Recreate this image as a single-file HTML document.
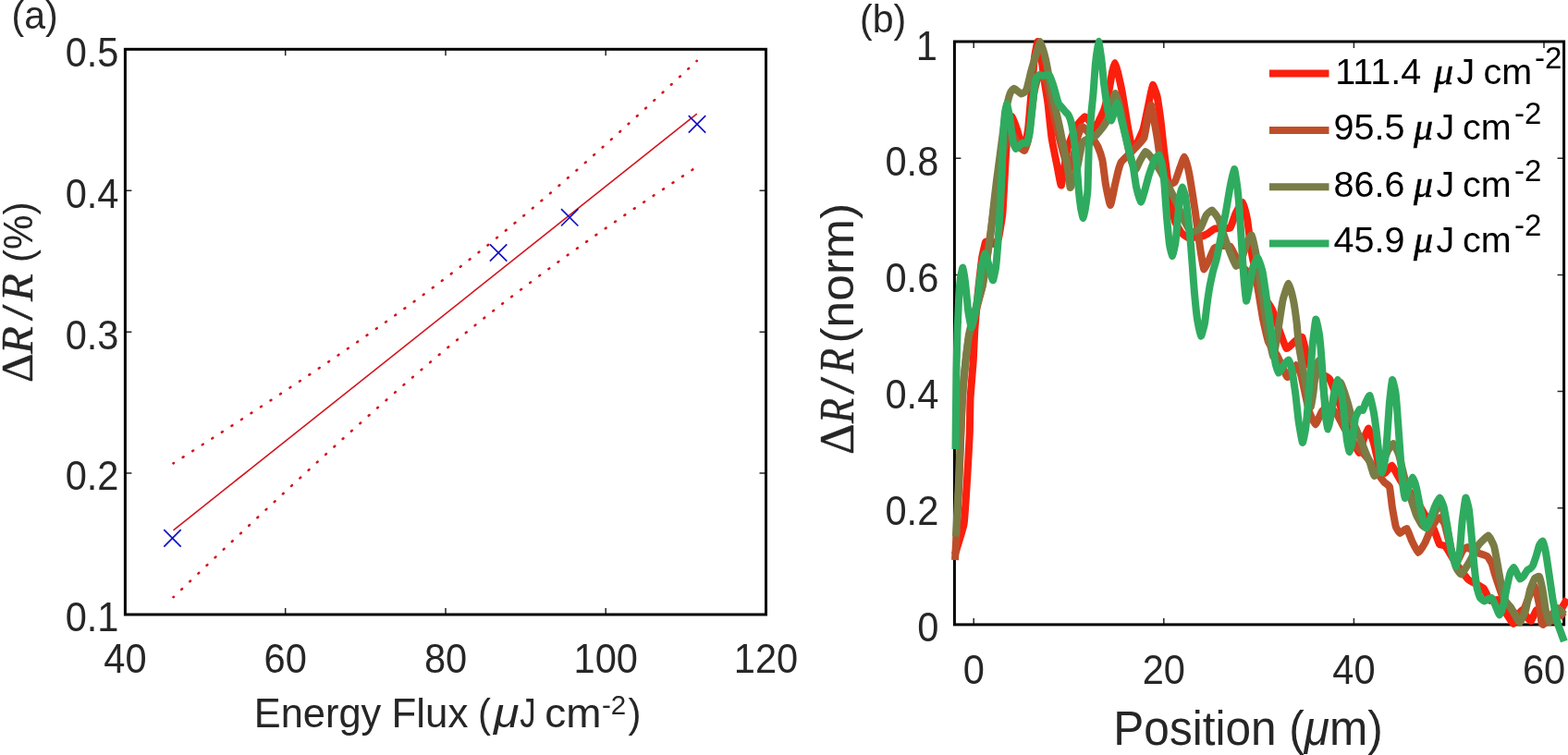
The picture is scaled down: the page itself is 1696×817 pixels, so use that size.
<!DOCTYPE html>
<html><head><meta charset="utf-8"><title>Figure</title>
<style>
html,body{margin:0;padding:0;background:#fff;}
body{width:1696px;height:817px;overflow:hidden;}
svg{display:block}
text{font-family:"Liberation Sans",sans-serif;fill:#262626;}
text.sf,tspan.sf{font-family:"Liberation Serif",serif;stroke:#262626;stroke-width:0.4px;}
text.sfi,tspan.sfi{font-family:"Liberation Serif",serif;font-style:italic;stroke:#262626;stroke-width:0.4px;}
text.k{fill:#000;}
.it{font-style:italic;}
</style></head><body>
<svg width="1696" height="817" viewBox="0 0 1696 817">
<rect width="1696" height="817" fill="#fff"/>

<g id="panel-a">
<text transform="translate(12.5 31.0) scale(0.965 1)" font-size="42.5" text-anchor="start">(a)</text>
<path d="M308.7 665.0v-7M308.7 53.3v7" stroke="#262626" stroke-width="1.5" fill="none"/>
<path d="M482.0 665.0v-7M482.0 53.3v7" stroke="#262626" stroke-width="1.5" fill="none"/>
<path d="M655.2 665.0v-7M655.2 53.3v7" stroke="#262626" stroke-width="1.5" fill="none"/>
<path d="M135.4 512.1h7M828.5 512.1h-7" stroke="#262626" stroke-width="1.5" fill="none"/>
<path d="M135.4 359.2h7M828.5 359.2h-7" stroke="#262626" stroke-width="1.5" fill="none"/>
<path d="M135.4 206.2h7M828.5 206.2h-7" stroke="#262626" stroke-width="1.5" fill="none"/>
<text transform="translate(135.4 728.3) scale(0.956 1)" font-size="43.5" text-anchor="middle">40</text>
<text transform="translate(308.7 728.3) scale(0.956 1)" font-size="43.5" text-anchor="middle">60</text>
<text transform="translate(482.0 728.3) scale(0.956 1)" font-size="43.5" text-anchor="middle">80</text>
<text transform="translate(655.2 728.3) scale(0.956 1)" font-size="43.5" text-anchor="middle">100</text>
<text transform="translate(828.5 728.3) scale(0.956 1)" font-size="43.5" text-anchor="middle">120</text>
<text transform="translate(128.5 683.3) scale(0.956 1)" font-size="43.5" text-anchor="end">0.1</text>
<text transform="translate(128.5 530.4) scale(0.956 1)" font-size="43.5" text-anchor="end">0.2</text>
<text transform="translate(128.5 377.5) scale(0.956 1)" font-size="43.5" text-anchor="end">0.3</text>
<text transform="translate(128.5 224.5) scale(0.956 1)" font-size="43.5" text-anchor="end">0.4</text>
<text transform="translate(128.5 71.6) scale(0.956 1)" font-size="43.5" text-anchor="end">0.5</text>
<line x1="187.5" y1="573.8" x2="753.8" y2="123.2" stroke="#d4141c" stroke-width="1.6"/>
<path d="M187.5 501.3L201.7 492.3L215.8 483.2L230.0 474.1L244.1 465.0L258.3 455.8L272.4 446.6L286.6 437.3L300.8 428.0L314.9 418.6L329.1 409.2L343.2 399.7L357.4 390.1L371.5 380.4L385.7 370.6L399.9 360.7L414.0 350.8L428.2 340.6L442.3 330.4L456.5 320.0L470.6 309.4L484.8 298.7L499.0 287.8L513.1 276.7L527.3 265.5L541.4 254.0L555.6 242.4L569.8 230.6L583.9 218.7L598.1 206.6L612.2 194.3L626.4 181.9L640.5 169.4L654.7 156.7L668.9 144.0L683.0 131.1L697.2 118.2L711.3 105.2L725.5 92.1L739.6 79.0L753.8 65.8" stroke="#d4141c" stroke-width="2.6" stroke-dasharray="1 11.56" stroke-dashoffset="0.5" stroke-linecap="round" fill="none"/>
<path d="M187.5 646.2L201.7 632.7L215.8 619.3L230.0 605.8L244.1 592.4L258.3 579.1L272.4 565.8L286.6 552.5L300.8 539.3L314.9 526.1L329.1 513.1L343.2 500.0L357.4 487.1L371.5 474.2L385.7 461.5L399.9 448.8L414.0 436.3L428.2 423.9L442.3 411.6L456.5 399.5L470.6 387.5L484.8 375.7L499.0 364.1L513.1 352.6L527.3 341.3L541.4 330.2L555.6 319.3L569.8 308.6L583.9 298.0L598.1 287.6L612.2 277.3L626.4 267.2L640.5 257.2L654.7 247.3L668.9 237.5L683.0 227.8L697.2 218.2L711.3 208.7L725.5 199.3L739.6 189.9L753.8 180.5" stroke="#d4141c" stroke-width="2.6" stroke-dasharray="1 11.564" stroke-dashoffset="0.5" stroke-linecap="round" fill="none"/>
<path d="M177.3 573.2L195.7 591.6M177.3 591.6L195.7 573.2" stroke="#1212c4" stroke-width="1.7" fill="none"/>
<path d="M529.9 264.3L548.3 282.7M529.9 282.7L548.3 264.3" stroke="#1212c4" stroke-width="1.7" fill="none"/>
<path d="M607.0 226.1L625.4 244.5M607.0 244.5L625.4 226.1" stroke="#1212c4" stroke-width="1.7" fill="none"/>
<path d="M744.8 125.2L763.2 143.6M744.8 143.6L763.2 125.2" stroke="#1212c4" stroke-width="1.7" fill="none"/>
<rect x="135.4" y="53.3" width="693.1" height="611.7" fill="none" stroke="#000" stroke-width="3"/>
<text transform="translate(0 787)" font-size="43.5"><tspan x="274.80" y="0" font-size="43.5" textLength="137.41" lengthAdjust="spacingAndGlyphs">Energy</tspan> <tspan x="423.50" y="0" font-size="43.5" textLength="82.84" lengthAdjust="spacingAndGlyphs">Flux</tspan> <tspan x="517.00" y="0" font-size="43.5" textLength="13.92" lengthAdjust="spacingAndGlyphs">(</tspan><tspan x="534.00" y="0" font-size="43.5" class="it" textLength="27.42" lengthAdjust="spacingAndGlyphs">μ</tspan><tspan x="562.30" y="0" font-size="43.5" textLength="17.40" lengthAdjust="spacingAndGlyphs">J</tspan> <tspan x="589.30" y="0" font-size="43.5" textLength="61.19" lengthAdjust="spacingAndGlyphs">cm</tspan><tspan x="651.00" y="-14.5" font-size="29.5" textLength="26.23" lengthAdjust="spacingAndGlyphs">-2</tspan><tspan x="679.50" y="0" font-size="43.5" textLength="13.92" lengthAdjust="spacingAndGlyphs">)</tspan></text>
<text transform="translate(35.2 0) rotate(-90)" font-size="49"><tspan x="-413.96" y="0" font-size="49" class="sf" textLength="31.52" lengthAdjust="spacingAndGlyphs">Δ</tspan><tspan x="-382.97" y="0" font-size="49" class="sfi" textLength="29.94" lengthAdjust="spacingAndGlyphs">R</tspan><tspan x="-347.36" y="0" font-size="49" class="sf" textLength="17.71" lengthAdjust="spacingAndGlyphs">/</tspan><tspan x="-325.97" y="0" font-size="49" class="sfi" textLength="29.94" lengthAdjust="spacingAndGlyphs">R</tspan> <tspan x="-284.01" y="0" font-size="44" textLength="65.43" lengthAdjust="spacingAndGlyphs">(%)</tspan></text>
</g>
<g id="panel-b">
<text transform="translate(930.0 35.0) scale(0.965 1)" font-size="42.5" text-anchor="start">(b)</text>
<path d="M1053.2 675.9v-7M1053.2 45.0v7" stroke="#262626" stroke-width="1.5" fill="none"/>
<path d="M1258.8 675.9v-7M1258.8 45.0v7" stroke="#262626" stroke-width="1.5" fill="none"/>
<path d="M1464.4 675.9v-7M1464.4 45.0v7" stroke="#262626" stroke-width="1.5" fill="none"/>
<path d="M1670.0 675.9v-7M1670.0 45.0v7" stroke="#262626" stroke-width="1.5" fill="none"/>
<path d="M1032.4 549.7h7M1691.6 549.7h-7" stroke="#262626" stroke-width="1.5" fill="none"/>
<path d="M1032.4 423.5h7M1691.6 423.5h-7" stroke="#262626" stroke-width="1.5" fill="none"/>
<path d="M1032.4 297.4h7M1691.6 297.4h-7" stroke="#262626" stroke-width="1.5" fill="none"/>
<path d="M1032.4 171.2h7M1691.6 171.2h-7" stroke="#262626" stroke-width="1.5" fill="none"/>
<text transform="translate(1053.2 739.6) scale(0.956 1)" font-size="43.5" text-anchor="middle">0</text>
<text transform="translate(1258.8 739.6) scale(0.956 1)" font-size="43.5" text-anchor="middle">20</text>
<text transform="translate(1464.4 739.6) scale(0.956 1)" font-size="43.5" text-anchor="middle">40</text>
<text transform="translate(1670.0 739.6) scale(0.956 1)" font-size="43.5" text-anchor="middle">60</text>
<text transform="translate(1015.3 694.2) scale(0.956 1)" font-size="43.5" text-anchor="end">0</text>
<text transform="translate(1015.3 568.0) scale(0.956 1)" font-size="43.5" text-anchor="end">0.2</text>
<text transform="translate(1015.3 441.8) scale(0.956 1)" font-size="43.5" text-anchor="end">0.4</text>
<text transform="translate(1015.3 315.7) scale(0.956 1)" font-size="43.5" text-anchor="end">0.6</text>
<text transform="translate(1015.3 189.5) scale(0.956 1)" font-size="43.5" text-anchor="end">0.8</text>
<text transform="translate(1013.8 64.6) scale(0.956 1)" font-size="43.5" text-anchor="end">1</text>
<rect x="1032.4" y="45.0" width="659.2" height="630.9" fill="none" stroke="#000" stroke-width="3"/>
<g transform="scale(1.0 1)" fill="none" stroke-width="8.0" stroke-linejoin="round" stroke-linecap="butt">
<path d="M1033.0 600.0C1033.2 599.3 1035.4 592.2 1036.0 590.0C1036.6 587.8 1041.9 571.7 1042.6 567.0C1043.3 562.3 1045.6 526.5 1046.0 520.0C1046.4 513.5 1048.6 475.0 1048.8 469.0C1049.0 463.0 1049.3 435.2 1049.6 430.0C1049.9 424.8 1052.4 396.0 1052.7 391.0C1053.0 386.0 1054.1 359.6 1054.5 354.5C1054.9 349.4 1057.5 320.0 1058.0 315.0C1058.5 310.0 1061.5 283.5 1062.0 280.0C1062.5 276.5 1065.5 263.2 1066.0 262.0C1066.5 260.8 1069.4 261.9 1070.0 262.0C1070.6 262.1 1074.3 264.3 1075.0 264.0C1075.7 263.7 1079.4 260.3 1080.0 258.0C1080.6 255.7 1084.0 236.1 1084.5 230.0C1085.0 223.9 1087.6 173.3 1088.0 167.0C1088.4 160.7 1090.6 137.7 1091.0 135.0C1091.4 132.3 1094.0 125.7 1094.6 126.0C1095.2 126.3 1099.2 137.6 1100.0 140.0C1100.8 142.4 1106.2 162.0 1107.0 162.0C1107.8 162.0 1111.4 144.5 1112.0 140.0C1112.6 135.5 1115.5 100.2 1116.0 95.0C1116.5 89.8 1118.6 65.3 1119.0 62.0C1119.4 58.7 1122.0 45.1 1122.5 45.0C1123.0 44.9 1125.5 57.0 1126.0 60.0C1126.5 63.0 1129.5 86.5 1130.0 90.0C1130.5 93.5 1133.0 108.1 1133.5 112.0C1134.0 115.9 1136.8 144.5 1137.5 149.0C1138.2 153.5 1142.8 176.6 1143.5 180.0C1144.2 183.4 1147.3 201.8 1148.0 200.5C1148.7 199.2 1153.4 165.2 1154.5 161.0C1155.6 156.8 1162.7 139.3 1164.0 137.0C1165.3 134.7 1172.4 126.6 1173.4 126.3C1174.4 126.0 1178.3 131.1 1179.0 132.0C1179.7 132.9 1183.3 140.3 1184.0 140.0C1184.7 139.7 1189.3 129.5 1190.0 128.0C1190.7 126.5 1193.9 120.0 1194.5 118.0C1195.1 116.0 1198.9 100.7 1199.5 98.0C1200.1 95.3 1202.6 80.0 1203.0 78.0C1203.4 76.0 1205.6 68.0 1206.0 68.0C1206.4 68.0 1208.5 75.9 1209.0 78.0C1209.5 80.1 1213.1 96.2 1213.8 100.0C1214.5 103.8 1218.8 131.1 1219.5 135.0C1220.2 138.9 1223.5 156.3 1224.0 158.0C1224.5 159.7 1226.7 161.2 1227.5 160.0C1228.3 158.8 1235.5 143.2 1236.5 140.0C1237.5 136.8 1241.8 115.2 1242.5 112.0C1243.2 108.8 1246.2 92.5 1246.8 92.0C1247.4 91.5 1250.9 101.4 1251.5 104.0C1252.1 106.6 1255.0 126.8 1255.5 130.6C1256.0 134.4 1258.4 157.6 1258.8 161.0C1259.2 164.4 1261.0 178.2 1261.5 182.0C1262.0 185.8 1265.4 214.1 1266.0 218.0C1266.6 221.9 1270.2 237.7 1271.0 240.0C1271.8 242.3 1277.1 250.9 1278.0 252.0C1278.9 253.1 1283.6 256.7 1285.0 257.0C1286.4 257.3 1297.3 256.3 1298.7 256.0C1300.1 255.7 1305.0 253.6 1306.0 253.0C1307.0 252.4 1312.3 248.1 1313.4 247.7C1314.5 247.3 1320.9 247.1 1322.0 247.0C1323.1 246.9 1329.6 247.6 1330.6 246.5C1331.6 245.4 1335.8 232.4 1336.7 230.6C1337.6 228.8 1343.2 218.6 1344.0 219.0C1344.8 219.4 1348.5 234.3 1349.0 236.7C1349.5 239.1 1351.1 252.6 1351.4 255.0C1351.7 257.4 1353.5 271.4 1353.8 273.4C1354.1 275.4 1355.8 283.6 1356.3 285.7C1356.8 287.8 1360.2 302.6 1361.0 305.0C1361.8 307.4 1367.0 320.0 1368.0 322.0C1369.0 324.0 1374.9 332.6 1376.0 335.0C1377.1 337.4 1383.0 355.2 1384.0 358.0C1385.0 360.8 1390.3 376.2 1391.4 377.0C1392.5 377.8 1398.9 370.8 1400.0 370.0C1401.1 369.2 1407.4 363.3 1408.5 365.0C1409.6 366.7 1414.9 392.5 1416.0 395.0C1417.1 397.5 1423.5 402.0 1425.0 403.0C1426.5 404.0 1436.3 407.5 1438.0 410.0C1439.7 412.5 1448.5 436.0 1450.0 440.0C1451.5 444.0 1458.7 466.7 1460.0 470.0C1461.3 473.3 1469.0 489.7 1470.0 490.0C1471.0 490.3 1474.3 476.8 1475.0 475.0C1475.7 473.2 1479.7 463.3 1480.4 463.6C1481.1 463.9 1485.2 477.2 1486.0 480.0C1486.8 482.8 1491.2 502.9 1492.0 505.0C1492.8 507.1 1497.1 512.1 1498.0 512.0C1498.9 511.9 1504.6 503.5 1505.5 503.7C1506.4 503.9 1511.0 513.4 1512.0 515.0C1513.0 516.6 1518.8 526.5 1520.0 528.0C1521.2 529.5 1528.3 535.2 1529.6 537.0C1530.9 538.8 1538.6 552.6 1540.0 555.0C1541.4 557.4 1549.9 570.7 1551.0 573.0C1552.1 575.3 1556.2 587.8 1557.0 589.0C1557.8 590.2 1562.1 589.6 1563.3 591.0C1564.5 592.4 1573.4 607.6 1575.0 610.0C1576.6 612.4 1586.5 625.5 1588.0 627.0C1589.5 628.5 1595.9 631.3 1597.0 632.0C1598.1 632.7 1604.0 635.8 1605.0 637.0C1606.0 638.2 1610.9 649.2 1612.0 650.0C1613.1 650.8 1619.8 648.0 1621.0 649.0C1622.2 650.0 1628.9 663.3 1630.0 665.0C1631.1 666.7 1636.0 674.9 1636.8 675.0C1637.6 675.1 1641.4 667.0 1642.0 666.0C1642.6 665.0 1645.9 659.9 1646.5 660.0C1647.1 660.1 1650.4 666.2 1651.0 667.0C1651.6 667.8 1655.3 672.5 1656.0 672.0C1656.7 671.5 1661.1 660.5 1662.0 660.0C1662.9 659.5 1668.8 664.2 1670.0 665.0C1671.2 665.8 1678.9 672.2 1680.0 672.0C1681.1 671.8 1686.0 663.6 1687.0 662.0C1688.0 660.4 1694.5 648.9 1695.0 648.0" stroke="#fb1f0d"/>
<path d="M1033.0 606.0C1033.1 603.6 1034.7 575.7 1035.0 570.0C1035.3 564.3 1037.1 528.7 1037.5 520.0C1037.9 511.3 1040.1 448.3 1040.5 440.0C1040.9 431.7 1043.5 400.0 1044.0 395.0C1044.5 390.0 1047.2 369.0 1048.0 365.0C1048.8 361.0 1055.1 338.5 1056.0 335.0C1056.9 331.5 1061.3 315.5 1062.0 312.0C1062.7 308.5 1066.4 285.8 1067.0 282.0C1067.6 278.2 1070.5 258.8 1071.0 255.0C1071.5 251.2 1074.4 229.3 1075.0 225.0C1075.6 220.7 1079.3 194.3 1080.0 190.0C1080.7 185.7 1085.2 163.3 1086.0 160.0C1086.8 156.7 1091.2 140.7 1092.0 140.0C1092.8 139.3 1097.2 148.7 1098.0 150.0C1098.8 151.3 1103.3 159.1 1104.0 160.0C1104.7 160.9 1107.5 163.5 1108.0 163.0C1108.5 162.5 1111.5 154.5 1112.0 152.0C1112.5 149.5 1115.1 128.5 1115.5 125.0C1115.9 121.5 1118.1 102.6 1118.5 100.0C1118.9 97.4 1121.4 87.1 1122.0 86.0C1122.6 84.9 1126.3 83.9 1127.0 84.0C1127.7 84.1 1131.5 86.9 1132.0 88.0C1132.5 89.1 1134.5 97.9 1135.0 100.0C1135.5 102.1 1138.3 116.7 1139.0 120.0C1139.7 123.3 1145.1 146.5 1146.0 150.0C1146.9 153.5 1151.3 169.9 1152.0 172.0C1152.7 174.1 1155.5 181.5 1156.0 182.0C1156.5 182.5 1158.6 181.1 1159.0 180.0C1159.4 178.9 1161.5 167.2 1162.0 165.0C1162.5 162.8 1165.4 148.9 1166.0 147.0C1166.6 145.1 1169.7 137.0 1170.4 136.7C1171.1 136.4 1175.2 141.1 1176.0 142.0C1176.8 142.9 1181.2 148.9 1182.0 150.0C1182.8 151.1 1186.8 157.1 1187.5 158.7C1188.2 160.3 1191.8 170.6 1192.4 173.4C1193.0 176.2 1195.4 196.8 1196.0 200.0C1196.6 203.2 1200.3 222.0 1201.0 222.0C1201.7 222.0 1205.4 202.6 1206.0 200.0C1206.6 197.4 1209.5 184.7 1210.0 183.0C1210.5 181.3 1212.3 176.0 1213.0 175.0C1213.7 174.0 1219.0 169.0 1220.0 168.0C1221.0 167.0 1226.8 161.3 1228.0 160.0C1229.2 158.7 1236.6 151.3 1237.5 149.0C1238.4 146.7 1241.5 127.3 1242.0 125.0C1242.5 122.7 1244.8 113.2 1245.3 114.0C1245.8 114.8 1249.0 134.3 1249.5 137.0C1250.0 139.7 1252.1 152.1 1252.5 155.0C1252.9 157.9 1255.4 177.1 1256.0 180.0C1256.6 182.9 1261.0 197.9 1262.0 199.0C1263.0 200.1 1269.7 198.2 1270.7 197.0C1271.7 195.8 1275.8 182.8 1276.5 181.0C1277.2 179.2 1280.4 169.7 1281.0 169.8C1281.6 169.9 1284.6 180.3 1285.0 182.0C1285.4 183.7 1287.0 191.9 1287.5 195.0C1288.0 198.1 1292.1 224.3 1292.8 229.0C1293.5 233.7 1297.2 262.3 1297.7 265.7C1298.2 269.1 1299.7 278.3 1300.0 280.0C1300.3 281.7 1301.8 291.5 1302.4 291.5C1303.0 291.5 1307.8 281.1 1308.5 279.6C1309.2 278.1 1312.5 269.4 1313.4 268.5C1314.3 267.6 1320.9 266.1 1322.0 266.0C1323.1 265.9 1329.6 265.9 1330.6 266.7C1331.6 267.5 1335.7 276.4 1336.7 278.0C1337.7 279.6 1344.0 288.8 1345.0 290.0C1346.0 291.2 1351.0 294.9 1352.0 296.0C1353.0 297.1 1358.6 303.5 1359.5 306.7C1360.4 309.9 1364.9 339.2 1365.7 343.4C1366.5 347.6 1370.9 367.2 1372.0 370.0C1373.1 372.8 1380.5 382.9 1381.6 385.0C1382.7 387.1 1388.3 399.5 1389.0 401.0C1389.7 402.5 1391.7 408.4 1392.6 408.0C1393.5 407.6 1401.0 395.2 1402.0 395.0C1403.0 394.8 1406.4 403.3 1407.0 405.0C1407.6 406.7 1410.0 418.3 1410.6 421.0C1411.2 423.7 1415.2 442.4 1416.0 445.0C1416.8 447.6 1421.9 459.4 1422.8 459.4C1423.7 459.4 1429.0 446.3 1430.0 445.0C1431.0 443.7 1436.9 439.8 1438.0 440.0C1439.1 440.2 1444.9 446.3 1446.0 448.0C1447.1 449.7 1453.7 462.9 1455.0 465.0C1456.3 467.1 1463.9 478.5 1465.0 480.0C1466.1 481.5 1470.8 486.4 1471.8 487.5C1472.8 488.6 1478.8 495.4 1480.0 497.0C1481.2 498.6 1488.8 510.3 1490.0 512.0C1491.2 513.7 1496.6 521.0 1497.5 522.0C1498.4 523.0 1502.4 525.2 1503.0 527.0C1503.6 528.8 1505.5 546.7 1506.0 549.6C1506.5 552.5 1509.2 568.2 1509.8 570.0C1510.4 571.8 1513.6 576.9 1514.4 577.0C1515.2 577.1 1520.9 571.5 1521.7 572.0C1522.5 572.5 1526.2 583.3 1527.0 585.0C1527.8 586.7 1533.0 597.8 1534.0 598.0C1535.0 598.2 1540.4 589.2 1541.3 587.5C1542.2 585.8 1546.6 574.6 1547.4 573.0C1548.2 571.4 1552.8 563.9 1553.5 563.0C1554.2 562.1 1557.4 559.7 1558.0 560.0C1558.6 560.3 1561.9 565.3 1562.5 567.0C1563.1 568.7 1566.4 582.5 1567.0 585.0C1567.6 587.5 1571.3 602.6 1572.0 604.0C1572.7 605.4 1576.3 606.5 1577.0 606.0C1577.7 605.5 1581.3 596.9 1582.0 596.0C1582.7 595.1 1586.3 592.0 1587.0 592.0C1587.7 592.0 1592.2 595.6 1593.0 596.0C1593.8 596.4 1598.0 598.1 1599.0 598.5C1600.0 598.9 1607.6 601.3 1608.6 602.0C1609.6 602.7 1612.9 608.3 1613.5 609.6C1614.1 610.9 1616.2 619.4 1617.0 621.8C1617.8 624.2 1623.8 642.5 1625.0 645.0C1626.2 647.5 1633.7 658.5 1635.0 660.0C1636.3 661.5 1643.9 668.7 1645.0 668.0C1646.1 667.3 1651.0 652.3 1652.0 650.0C1653.0 647.7 1659.1 633.7 1660.0 634.0C1660.9 634.3 1664.5 652.4 1665.0 655.0C1665.5 657.6 1667.1 672.0 1667.4 673.4C1667.7 674.8 1668.5 676.2 1669.0 676.0C1669.5 675.8 1674.1 671.1 1675.0 670.0C1675.9 668.9 1681.9 660.1 1683.0 660.0C1684.1 659.9 1691.4 667.5 1692.0 668.0" stroke="#be4e2a"/>
<path d="M1034.0 580.5C1034.1 577.8 1035.7 545.7 1036.0 540.0C1036.3 534.3 1037.7 502.3 1038.0 495.0C1038.3 487.7 1040.6 436.9 1041.0 430.0C1041.4 423.1 1044.0 395.5 1044.5 391.0C1045.0 386.5 1047.4 365.3 1048.0 362.0C1048.6 358.7 1052.3 344.5 1053.0 342.0C1053.7 339.5 1057.3 327.2 1058.0 325.0C1058.7 322.8 1062.2 312.7 1062.8 309.6C1063.4 306.5 1067.1 282.7 1067.7 279.0C1068.3 275.3 1070.9 258.1 1071.4 254.5C1071.9 250.9 1074.1 229.0 1074.5 225.0C1074.9 221.0 1077.5 199.0 1078.0 195.0C1078.5 191.0 1081.5 169.0 1082.0 165.0C1082.5 161.0 1085.5 138.7 1086.0 135.0C1086.5 131.3 1089.5 112.3 1090.0 110.0C1090.5 107.7 1092.6 100.9 1093.0 100.0C1093.4 99.1 1096.0 95.9 1096.5 95.8C1097.0 95.7 1099.5 97.6 1100.0 98.0C1100.5 98.4 1104.0 101.4 1104.5 101.5C1105.0 101.6 1107.6 100.4 1108.0 100.0C1108.4 99.6 1110.1 97.4 1110.6 96.0C1111.1 94.6 1114.2 81.4 1114.8 79.0C1115.4 76.6 1119.6 62.3 1120.3 60.0C1121.0 57.7 1124.7 45.0 1125.3 45.0C1125.9 45.0 1129.5 58.1 1130.0 60.0C1130.5 61.9 1132.5 71.3 1133.0 74.0C1133.5 76.7 1136.6 95.8 1137.5 100.0C1138.4 104.2 1144.9 131.4 1146.0 136.7C1147.1 142.0 1153.7 175.2 1154.5 179.6C1155.3 184.0 1157.1 202.0 1157.5 203.0C1157.9 204.0 1160.5 195.5 1161.0 194.0C1161.5 192.5 1164.9 182.6 1165.5 180.0C1166.1 177.4 1169.8 156.9 1170.4 155.0C1171.0 153.1 1174.0 151.5 1175.0 151.0C1176.0 150.5 1183.8 148.0 1185.0 147.0C1186.2 146.0 1192.7 138.0 1193.6 136.7C1194.5 135.4 1197.9 129.6 1198.5 128.0C1199.1 126.4 1202.0 113.8 1202.5 112.0C1203.0 110.2 1205.9 100.8 1206.5 101.0C1207.1 101.2 1210.3 112.1 1211.0 115.0C1211.7 117.9 1216.2 141.2 1217.0 145.0C1217.8 148.8 1222.3 169.4 1223.0 172.0C1223.7 174.6 1227.3 183.9 1228.0 184.0C1228.7 184.1 1232.3 175.3 1233.0 174.0C1233.7 172.7 1238.2 164.3 1239.0 164.0C1239.8 163.7 1243.9 168.6 1245.0 170.0C1246.1 171.4 1253.9 183.1 1255.0 185.0C1256.1 186.9 1261.2 196.5 1262.0 198.0C1262.8 199.5 1266.3 206.7 1267.0 208.0C1267.7 209.3 1271.1 216.1 1272.0 218.0C1272.9 219.9 1278.9 234.8 1280.0 237.0C1281.1 239.2 1287.1 250.1 1288.0 251.0C1288.9 251.9 1292.3 250.3 1293.0 250.0C1293.7 249.7 1297.7 248.1 1298.5 247.0C1299.3 245.9 1303.8 234.3 1304.6 233.0C1305.4 231.7 1310.1 227.2 1311.0 227.5C1311.9 227.8 1317.1 235.2 1318.0 237.0C1318.9 238.8 1323.2 252.6 1324.0 255.0C1324.8 257.4 1329.7 271.2 1330.6 273.4C1331.5 275.6 1336.2 287.6 1337.0 288.0C1337.8 288.4 1342.2 281.7 1343.0 280.0C1343.8 278.3 1348.3 263.7 1349.0 262.0C1349.7 260.3 1353.2 253.8 1353.8 254.5C1354.4 255.2 1357.4 269.0 1358.0 272.0C1358.6 275.0 1361.9 295.8 1362.5 300.0C1363.1 304.2 1366.8 330.5 1367.5 335.0C1368.2 339.5 1372.3 364.6 1373.0 368.0C1373.7 371.4 1376.9 386.5 1377.5 386.0C1378.1 385.5 1381.3 364.1 1382.0 360.0C1382.7 355.9 1386.7 328.6 1387.5 325.0C1388.3 321.4 1393.0 306.7 1393.8 306.7C1394.6 306.7 1398.4 322.1 1399.0 325.0C1399.6 327.9 1402.2 346.3 1402.6 349.6C1403.0 352.9 1404.4 371.0 1405.0 375.0C1405.6 379.0 1410.3 405.3 1411.0 409.0C1411.7 412.7 1415.0 428.9 1415.5 431.0C1416.0 433.1 1417.7 440.4 1418.0 440.0C1418.3 439.6 1420.1 427.8 1420.5 425.0C1420.9 422.2 1423.1 400.3 1423.5 398.0C1423.9 395.7 1426.1 389.9 1426.5 390.0C1426.9 390.1 1429.1 397.7 1429.5 400.0C1429.9 402.3 1431.6 421.8 1432.0 425.0C1432.4 428.2 1434.6 446.2 1435.0 448.0C1435.4 449.8 1437.5 452.9 1438.0 452.0C1438.5 451.1 1441.4 437.3 1442.0 435.0C1442.6 432.7 1446.0 418.4 1446.5 417.0C1447.0 415.6 1449.5 413.5 1450.0 414.0C1450.5 414.5 1453.5 422.5 1454.0 424.0C1454.5 425.5 1457.4 434.6 1458.0 436.7C1458.6 438.8 1462.1 452.4 1463.0 455.0C1463.9 457.6 1470.8 473.5 1471.8 476.0C1472.8 478.5 1477.3 490.2 1478.0 491.8C1478.7 493.4 1481.0 498.5 1481.6 500.0C1482.2 501.5 1485.7 514.7 1486.5 515.0C1487.3 515.3 1493.0 506.8 1494.0 505.0C1495.0 503.2 1500.1 489.7 1501.0 488.0C1501.9 486.3 1506.2 479.7 1507.0 480.0C1507.8 480.3 1512.1 489.3 1513.0 492.0C1513.9 494.7 1518.8 515.7 1520.0 520.0C1521.2 524.3 1530.3 552.8 1531.5 556.0C1532.7 559.2 1537.2 567.0 1538.0 568.0C1538.8 569.0 1542.3 571.5 1543.0 571.0C1543.7 570.5 1548.1 562.6 1549.0 561.0C1549.9 559.4 1555.2 547.6 1556.0 547.0C1556.8 546.4 1560.4 550.3 1561.0 552.0C1561.6 553.7 1564.9 569.1 1565.5 572.0C1566.1 574.9 1569.4 593.2 1570.0 596.0C1570.6 598.8 1574.3 612.3 1575.0 614.0C1575.7 615.7 1579.5 621.9 1580.5 621.4C1581.5 620.9 1588.8 609.1 1590.0 607.0C1591.2 604.9 1597.7 591.8 1599.0 590.0C1600.3 588.2 1608.7 579.5 1609.8 579.6C1610.9 579.7 1615.3 589.0 1616.0 591.0C1616.7 593.0 1619.1 607.0 1619.6 609.6C1620.1 612.2 1622.7 627.3 1623.3 630.0C1623.9 632.7 1627.3 648.2 1628.0 650.0C1628.7 651.8 1633.2 655.8 1634.0 657.0C1634.8 658.2 1639.3 666.9 1640.0 668.0C1640.7 669.1 1643.3 673.9 1644.0 673.4C1644.7 672.9 1649.3 663.4 1650.0 661.0C1650.7 658.6 1654.3 640.3 1655.0 638.0C1655.7 635.7 1659.3 626.9 1660.0 626.0C1660.7 625.1 1664.4 623.2 1665.0 624.0C1665.6 624.8 1668.0 635.5 1668.5 638.0C1669.0 640.5 1671.5 658.7 1672.0 661.0C1672.5 663.3 1675.5 672.7 1676.0 673.0C1676.5 673.3 1679.4 666.0 1680.0 665.0C1680.6 664.0 1684.2 658.0 1685.0 658.0C1685.8 658.0 1691.5 664.5 1692.0 665.0" stroke="#7a7c45"/>
<path d="M1033.5 486.0C1033.5 482.9 1033.9 445.7 1034.0 440.0C1034.1 434.3 1034.4 405.3 1034.5 400.0C1034.6 394.7 1035.3 365.0 1035.5 360.0C1035.7 355.0 1036.8 329.0 1037.0 325.0C1037.2 321.0 1038.7 302.4 1039.0 300.0C1039.3 297.6 1041.1 289.4 1041.4 289.7C1041.7 290.0 1043.6 302.0 1044.0 305.0C1044.4 308.0 1046.6 331.7 1047.0 335.0C1047.4 338.3 1050.1 354.0 1050.6 354.5C1051.1 355.0 1053.5 345.4 1054.0 343.0C1054.5 340.6 1057.5 321.5 1058.0 318.0C1058.5 314.5 1061.0 292.9 1061.5 290.0C1062.0 287.1 1064.8 274.6 1065.3 274.3C1065.8 274.0 1068.6 283.4 1069.0 285.0C1069.4 286.6 1071.7 296.8 1072.0 298.0C1072.3 299.2 1073.9 303.8 1074.2 303.3C1074.5 302.8 1076.6 292.8 1077.0 290.0C1077.4 287.2 1079.2 266.0 1079.5 262.0C1079.8 258.0 1081.2 234.8 1081.5 230.0C1081.8 225.2 1083.3 195.3 1083.5 190.0C1083.7 184.7 1084.8 154.5 1085.0 150.0C1085.2 145.5 1086.7 124.5 1087.0 122.0C1087.3 119.5 1088.9 112.2 1089.2 112.5C1089.5 112.8 1091.6 123.8 1092.0 126.0C1092.4 128.2 1094.2 143.0 1094.5 145.0C1094.8 147.0 1096.2 154.9 1096.5 156.0C1096.8 157.1 1098.6 160.9 1099.0 161.0C1099.4 161.1 1102.5 157.4 1103.0 157.0C1103.5 156.6 1106.5 154.6 1107.0 154.5C1107.5 154.4 1110.1 155.6 1110.5 155.0C1110.9 154.4 1113.1 147.2 1113.5 145.0C1113.9 142.8 1115.7 125.1 1116.0 122.0C1116.3 118.9 1118.2 100.5 1118.5 98.0C1118.8 95.5 1120.6 85.1 1121.0 84.0C1121.4 82.9 1124.0 81.1 1124.5 81.0C1125.0 80.9 1127.5 82.0 1128.0 82.0C1128.5 82.0 1131.5 81.0 1132.0 81.0C1132.5 81.0 1134.6 80.8 1135.0 81.4C1135.4 82.0 1138.0 88.6 1138.5 90.0C1139.0 91.4 1141.6 100.5 1142.0 102.0C1142.4 103.5 1144.6 111.1 1145.0 112.0C1145.4 112.9 1147.9 115.4 1148.4 116.0C1148.9 116.6 1151.5 119.9 1152.0 120.5C1152.5 121.1 1155.3 123.7 1155.7 124.5C1156.1 125.3 1158.2 130.8 1158.5 132.0C1158.8 133.2 1160.2 140.0 1160.6 142.8C1161.0 145.6 1163.9 169.3 1164.3 173.4C1164.7 177.5 1166.4 201.6 1166.7 205.0C1167.0 208.4 1168.7 222.9 1169.0 225.0C1169.3 227.1 1171.3 236.2 1171.7 236.0C1172.1 235.8 1174.2 224.1 1174.5 222.0C1174.8 219.9 1176.3 209.1 1176.5 205.0C1176.7 200.9 1177.5 166.4 1177.7 161.0C1177.9 155.6 1179.9 128.6 1180.2 124.5C1180.5 120.4 1182.3 103.8 1182.6 100.0C1182.9 96.2 1184.6 71.7 1185.0 68.0C1185.4 64.3 1187.9 45.2 1188.3 45.0C1188.7 44.8 1191.1 62.0 1191.5 65.0C1191.9 68.0 1193.6 86.9 1194.0 90.0C1194.4 93.1 1196.6 109.7 1197.0 112.0C1197.4 114.3 1199.2 123.8 1199.5 125.0C1199.8 126.2 1201.6 130.7 1202.0 130.5C1202.4 130.3 1204.6 123.3 1205.0 122.0C1205.4 120.7 1207.6 111.6 1208.0 111.5C1208.4 111.4 1210.7 118.7 1211.0 120.0C1211.3 121.3 1212.6 128.3 1213.2 130.6C1213.8 132.9 1218.6 151.7 1219.4 155.0C1220.2 158.3 1224.9 176.5 1225.5 179.6C1226.1 182.7 1228.4 199.4 1229.0 202.0C1229.6 204.6 1233.4 218.2 1234.0 218.5C1234.6 218.8 1237.5 208.8 1238.0 207.0C1238.5 205.2 1241.5 193.8 1242.0 192.0C1242.5 190.2 1245.5 181.4 1246.0 180.0C1246.5 178.6 1249.5 171.8 1250.0 171.0C1250.5 170.2 1253.1 167.5 1253.6 168.0C1254.1 168.5 1256.6 175.9 1257.0 178.0C1257.4 180.1 1259.2 196.2 1259.5 200.0C1259.8 203.8 1261.6 230.7 1262.0 235.0C1262.4 239.3 1264.6 262.2 1265.0 265.0C1265.4 267.8 1267.8 277.2 1268.2 277.0C1268.6 276.8 1271.1 264.8 1271.5 262.0C1271.9 259.2 1273.7 238.3 1274.0 235.0C1274.3 231.7 1275.7 215.2 1276.0 213.0C1276.3 210.8 1278.3 202.7 1278.7 202.6C1279.1 202.5 1281.6 209.8 1282.0 212.0C1282.4 214.2 1284.6 231.5 1285.0 235.0C1285.4 238.5 1287.6 260.3 1288.0 265.0C1288.4 269.7 1290.6 299.8 1291.0 305.0C1291.4 310.2 1294.2 339.5 1294.7 343.4C1295.2 347.3 1298.4 363.2 1299.0 363.6C1299.6 364.0 1302.6 352.2 1303.0 350.0C1303.4 347.8 1305.2 332.5 1305.5 330.0C1305.8 327.5 1307.6 315.2 1308.0 312.8C1308.4 310.4 1311.3 296.7 1311.8 294.5C1312.3 292.3 1315.4 282.2 1316.0 279.6C1316.6 277.0 1320.2 258.3 1320.8 255.0C1321.4 251.7 1325.1 233.9 1325.7 230.6C1326.3 227.3 1329.4 208.2 1330.0 205.0C1330.6 201.8 1334.5 183.3 1335.0 183.0C1335.5 182.7 1337.6 197.2 1338.0 200.0C1338.4 202.8 1340.1 220.4 1340.4 224.5C1340.7 228.6 1342.5 256.0 1342.8 261.0C1343.1 266.0 1345.0 295.7 1345.3 300.0C1345.6 304.3 1347.6 325.0 1348.0 325.7C1348.4 326.4 1351.0 312.4 1351.5 310.0C1352.0 307.6 1354.4 292.1 1355.0 290.0C1355.6 287.9 1359.8 278.7 1360.5 279.0C1361.2 279.3 1365.1 291.8 1365.7 294.5C1366.3 297.2 1368.9 315.7 1369.4 319.0C1369.9 322.3 1372.5 340.0 1373.0 343.4C1373.5 346.8 1376.1 366.7 1376.5 370.0C1376.9 373.3 1379.1 390.8 1379.5 393.0C1379.9 395.2 1382.4 403.4 1383.0 403.6C1383.6 403.8 1387.3 396.9 1388.0 396.0C1388.7 395.1 1393.3 389.2 1393.9 389.5C1394.5 389.8 1397.0 398.6 1397.5 401.0C1398.0 403.4 1400.7 422.1 1401.2 425.7C1401.7 429.3 1404.0 451.4 1404.5 455.0C1405.0 458.6 1408.3 478.3 1408.8 479.0C1409.3 479.7 1411.6 467.6 1412.0 465.0C1412.4 462.4 1414.2 443.7 1414.5 440.0C1414.8 436.3 1416.7 414.3 1417.0 410.0C1417.3 405.7 1419.1 379.3 1419.5 375.0C1419.9 370.7 1422.7 346.4 1423.2 345.5C1423.7 344.6 1426.6 359.1 1427.0 362.0C1427.4 364.9 1429.2 384.8 1429.5 389.0C1429.8 393.2 1431.7 420.8 1432.0 425.0C1432.3 429.2 1433.7 449.4 1434.0 452.0C1434.3 454.6 1436.1 464.6 1436.5 464.5C1436.9 464.4 1439.1 452.4 1439.5 450.0C1439.9 447.6 1442.0 430.6 1442.5 428.0C1443.0 425.4 1446.1 411.2 1446.7 411.0C1447.3 410.8 1450.5 422.4 1451.0 425.0C1451.5 427.6 1453.6 446.5 1454.0 450.0C1454.4 453.5 1456.6 474.4 1457.0 477.0C1457.4 479.6 1459.3 489.1 1459.7 489.0C1460.1 488.9 1462.6 477.5 1463.0 475.0C1463.4 472.5 1465.5 454.1 1466.0 452.0C1466.5 449.9 1470.1 443.5 1470.6 443.0C1471.1 442.5 1473.6 444.5 1474.0 444.0C1474.4 443.5 1476.5 437.1 1477.0 436.0C1477.5 434.9 1481.0 427.3 1481.6 428.0C1482.2 428.7 1485.5 444.0 1486.0 447.0C1486.5 450.0 1489.1 469.5 1489.5 473.0C1489.9 476.5 1492.1 497.4 1492.5 500.0C1492.9 502.6 1494.6 511.6 1495.0 511.5C1495.4 511.4 1497.6 500.8 1498.0 498.0C1498.4 495.2 1500.2 474.2 1500.5 470.0C1500.8 465.8 1502.6 438.9 1503.0 435.0C1503.4 431.1 1505.6 411.7 1506.0 411.0C1506.4 410.3 1509.1 422.1 1509.5 425.0C1509.9 427.9 1511.7 450.7 1512.0 455.0C1512.3 459.3 1514.2 485.5 1514.5 490.0C1514.8 494.5 1516.7 518.7 1517.0 522.0C1517.3 525.3 1519.2 538.6 1519.6 539.0C1520.0 539.4 1522.9 529.5 1523.5 528.0C1524.1 526.5 1527.4 516.5 1528.0 516.5C1528.6 516.5 1531.5 525.9 1532.0 528.0C1532.5 530.1 1535.5 545.6 1536.0 548.0C1536.5 550.4 1539.1 562.4 1539.5 564.0C1539.9 565.6 1542.2 571.6 1542.7 571.5C1543.2 571.4 1546.4 563.6 1547.0 562.0C1547.6 560.4 1551.3 549.6 1552.0 548.0C1552.7 546.4 1556.6 538.6 1557.2 538.6C1557.8 538.6 1560.9 545.9 1561.5 548.0C1562.1 550.1 1565.0 566.9 1565.5 570.0C1566.0 573.1 1568.9 592.1 1569.5 595.0C1570.1 597.9 1574.4 613.0 1575.0 613.0C1575.6 613.0 1578.6 598.2 1579.0 595.0C1579.4 591.8 1581.1 568.8 1581.5 565.0C1581.9 561.2 1584.8 539.5 1585.3 538.6C1585.8 537.7 1588.6 549.2 1589.0 552.0C1589.4 554.8 1591.3 576.0 1591.7 580.0C1592.1 584.0 1594.1 608.3 1594.5 612.0C1594.9 615.7 1597.1 633.7 1597.5 636.0C1597.9 638.3 1600.4 646.0 1601.0 647.0C1601.6 648.0 1605.4 650.4 1606.0 650.5C1606.6 650.6 1609.5 648.2 1610.0 648.0C1610.5 647.8 1613.0 646.6 1613.5 647.0C1614.0 647.4 1616.4 652.8 1617.0 654.0C1617.6 655.2 1621.4 665.4 1622.0 665.5C1622.6 665.6 1625.5 657.0 1626.0 655.0C1626.5 653.0 1629.5 637.3 1630.0 635.0C1630.5 632.7 1633.0 621.4 1633.5 620.0C1634.0 618.6 1636.9 613.9 1637.4 614.0C1637.9 614.1 1640.6 620.2 1641.0 621.0C1641.4 621.8 1643.5 626.3 1644.0 626.5C1644.5 626.7 1647.5 624.1 1648.0 623.5C1648.5 622.9 1651.5 617.5 1652.0 617.0C1652.5 616.5 1654.6 615.6 1655.0 615.3C1655.4 615.0 1657.6 612.9 1658.0 612.0C1658.4 611.1 1661.0 603.5 1661.5 602.0C1662.0 600.5 1664.5 591.1 1665.0 590.0C1665.5 588.9 1668.1 585.2 1668.6 585.7C1669.1 586.2 1671.5 595.4 1672.0 598.0C1672.5 600.6 1675.5 621.1 1676.0 624.5C1676.5 627.9 1679.0 645.7 1679.6 649.0C1680.2 652.3 1683.7 670.4 1684.5 673.4C1685.3 676.4 1691.3 692.6 1691.8 694.0" stroke="#2fab5f"/>
</g>
<line x1="1373" y1="79.5" x2="1437.5" y2="79.5" stroke="#fb1f0d" stroke-width="8"/>
<text class="k" font-size="39.5" y="91.0"><tspan x="1444.3">111.4</tspan> <tspan x="1551" class="sfi" font-size="42" style="stroke:#000;stroke-width:0.5px">μ</tspan><tspan x="1575.5">J</tspan> <tspan x="1604.5">cm</tspan><tspan x="1660" dy="-17.3" font-size="33">-2</tspan></text>
<line x1="1373" y1="141" x2="1437.5" y2="141" stroke="#be4e2a" stroke-width="8"/>
<text class="k" font-size="39.5" y="151.2"><tspan x="1442.5">95.5</tspan> <tspan x="1529" class="sfi" font-size="42" style="stroke:#000;stroke-width:0.5px">μ</tspan><tspan x="1553.5">J</tspan> <tspan x="1582">cm</tspan><tspan x="1638" dy="-17.3" font-size="33">-2</tspan></text>
<line x1="1373" y1="202.3" x2="1437.5" y2="202.3" stroke="#7a7c45" stroke-width="8"/>
<text class="k" font-size="39.5" y="213.2"><tspan x="1442.5">86.6</tspan> <tspan x="1529" class="sfi" font-size="42" style="stroke:#000;stroke-width:0.5px">μ</tspan><tspan x="1553.5">J</tspan> <tspan x="1582">cm</tspan><tspan x="1638" dy="-17.3" font-size="33">-2</tspan></text>
<line x1="1373" y1="263.5" x2="1437.5" y2="263.5" stroke="#2fab5f" stroke-width="8"/>
<text class="k" font-size="39.5" y="272.6"><tspan x="1442.5">45.9</tspan> <tspan x="1529" class="sfi" font-size="42" style="stroke:#000;stroke-width:0.5px">μ</tspan><tspan x="1553.5">J</tspan> <tspan x="1582">cm</tspan><tspan x="1638" dy="-17.3" font-size="33">-2</tspan></text>
<text transform="translate(1350.0 806.4) scale(0.962 1)" font-size="51.5" text-anchor="middle">Position (<tspan font-style="italic">μ</tspan>m)</text>
<text transform="translate(923 0) rotate(-90)" font-size="52"><tspan x="-491.93" y="0" font-size="52" class="sf" textLength="33.45" lengthAdjust="spacingAndGlyphs">Δ</tspan><tspan x="-458.10" y="0" font-size="52" class="sfi" textLength="27.00" lengthAdjust="spacingAndGlyphs">R</tspan><tspan x="-426.89" y="0" font-size="52" class="sf" textLength="18.79" lengthAdjust="spacingAndGlyphs">/</tspan><tspan x="-404.00" y="0" font-size="52" class="sfi" textLength="27.00" lengthAdjust="spacingAndGlyphs">R</tspan> <tspan x="-371.54" y="0" font-size="50.5" textLength="151.68" lengthAdjust="spacingAndGlyphs">(norm)</tspan></text>
</g>
</svg></body></html>
